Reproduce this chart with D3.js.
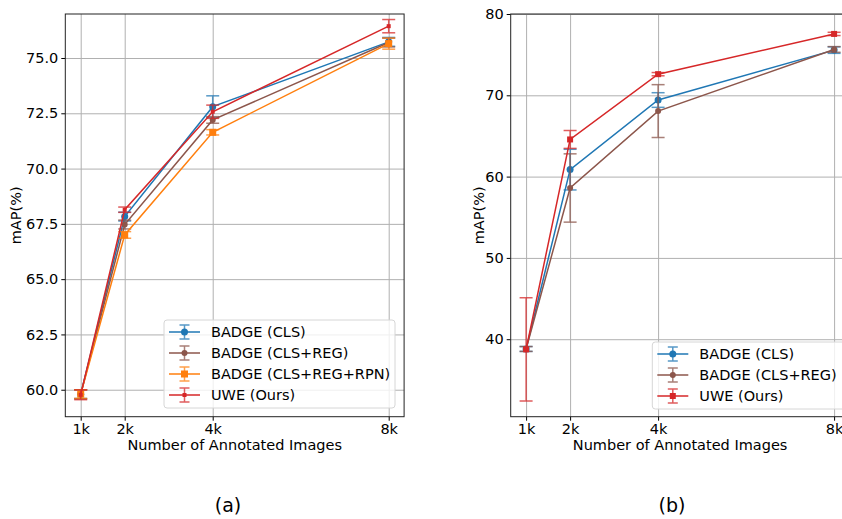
<!DOCTYPE html>
<html><head><meta charset="utf-8">
<script src="https://cdn.jsdelivr.net/npm/d3@7"></script>
<style>body{margin:0;background:#fff}svg{display:block}text{font-family:"DejaVu Sans",sans-serif}</style>
</head><body>
<script>
// ---- data ----
const xTicks = [1, 2, 4, 8];
const xTickLabels = ["1k", "2k", "4k", "8k"];

// chart (a)
const aBadgeCls = [59.8, 67.83, 72.8, 75.73];
const aBadgeClsErr = [0.2, 0.2, 0.49, 0.2];
const aBadgeClsReg = [59.8, 67.47, 72.2, 75.7];
const aBadgeClsRegErr = [0.2, 0.2, 0.15, 0.2];
const aBadgeClsRegRpn = [59.8, 67.0, 71.64, 75.65];
const aBadgeClsRegRpnErr = [0.2, 0.15, 0.12, 0.25];
const aUwe = [59.77, 68.14, 72.57, 76.44];
const aUweErr = [0.22, 0.12, 0.3, 0.3];
const aYTicks = [60.0, 62.5, 65.0, 67.5, 70.0, 72.5, 75.0];

// chart (b)
const bBadgeCls = [38.8, 60.86, 69.42, 75.56];
const bBadgeClsErr = [0.3, 2.5, 0.9, 0.4];
const bBadgeClsReg = [38.8, 58.6, 68.06, 75.64];
const bBadgeClsRegErr = [0.3, 4.2, 3.25, 0.35];
const bUwe = [38.75, 64.57, 72.6, 77.55];
const bUweErr = [6.35, 1.1, 0.2, 0.2];
const bYTicks = [40, 50, 60, 70, 80];

const seriesNames = ["BADGE (CLS)", "BADGE (CLS+REG)", "BADGE (CLS+REG+RPN)", "UWE (Ours)"];
const colors = {"BADGE (CLS)":"#1f77b4","BADGE (CLS+REG)":"#8c564b","BADGE (CLS+REG+RPN)":"#ff7f0e","UWE (Ours)":"#d62728"};
const markers = {"BADGE (CLS)":"circle","BADGE (CLS+REG)":"circle","BADGE (CLS+REG+RPN)":"square","UWE (Ours)":"square"};

const FS = 14.5;
const svg = d3.select("body").append("svg").attr("width", 842).attr("height", 519);

function drawMarker(g, shape, cx, cy, color, size) {
  if (shape === "circle") {
    g.append("circle").attr("cx", cx).attr("cy", cy).attr("r", size / 2).attr("fill", color);
  } else {
    g.append("rect").attr("x", cx - size / 2).attr("y", cy - size / 2).attr("width", size).attr("height", size).attr("fill", color);
  }
}

function chart(opt) {
  const x = d3.scaleLinear().domain([0.65, 8.35]).range([opt.left, opt.right]);
  const y = d3.scaleLinear().domain(opt.yDomain).range([opt.bottom, opt.top]);
  const g = svg.append("g");
  // grid
  g.append("g").attr("transform", `translate(0,${opt.bottom})`)
    .call(d3.axisBottom(x).tickValues(xTicks).tickSize(-(opt.bottom - opt.top)).tickFormat(""))
    .call(s => { s.select(".domain").remove(); s.selectAll("line").attr("stroke", "#b0b0b0").attr("stroke-width", 1); });
  g.append("g").attr("transform", `translate(${opt.left},0)`)
    .call(d3.axisLeft(y).tickValues(opt.yTicks).tickSize(-(opt.right - opt.left)).tickFormat(""))
    .call(s => { s.select(".domain").remove(); s.selectAll("line").attr("stroke", "#b0b0b0").attr("stroke-width", 1); });
  // axes ticks/labels
  g.append("g").attr("transform", `translate(0,${opt.bottom})`)
    .call(d3.axisBottom(x).tickValues(xTicks).tickSize(4).tickPadding(3).tickFormat((d, i) => xTickLabels[i]))
    .call(s => { s.select(".domain").remove(); s.selectAll("text").attr("font-size", FS).attr("fill", "#000").attr("font-family", "DejaVu Sans"); s.selectAll("line").attr("stroke", "#000"); });
  g.append("g").attr("transform", `translate(${opt.left},0)`)
    .call(d3.axisLeft(y).tickValues(opt.yTicks).tickSize(4).tickPadding(3).tickFormat(opt.fmt))
    .call(s => { s.select(".domain").remove(); s.selectAll("text").attr("font-size", FS).attr("fill", "#000").attr("font-family", "DejaVu Sans"); s.selectAll("line").attr("stroke", "#000"); });

  // series
  const plot = g.append("g");
  opt.series.forEach(se => {
    const c = colors[se.name];
    const pts = xTicks.map((xv, i) => ({x: xv, y: se.values[i], e: se.err[i]}));
    const eb = plot.append("g").attr("stroke", c).attr("stroke-width", 1.5).attr("opacity", 0.75);
    pts.forEach(p => {
      const px = x(p.x), y1 = y(p.y + p.e), y2 = y(p.y - p.e);
      eb.append("line").attr("x1", px).attr("x2", px).attr("y1", y1).attr("y2", y2);
      eb.append("line").attr("x1", px - 6.5).attr("x2", px + 6.5).attr("y1", y1).attr("y2", y1);
      eb.append("line").attr("x1", px - 6.5).attr("x2", px + 6.5).attr("y1", y2).attr("y2", y2);
    });
    plot.append("path").datum(pts)
      .attr("d", d3.line().x(d => x(d.x)).y(d => y(d.y)))
      .attr("fill", "none").attr("stroke", c).attr("stroke-width", 1.5);
    pts.forEach(p => drawMarker(plot, markers[se.name], x(p.x), y(p.y), c, se.msize));
  });

  // spines
  g.append("rect").attr("x", opt.left).attr("y", opt.top).attr("width", opt.right - opt.left).attr("height", opt.bottom - opt.top)
    .attr("fill", "none").attr("stroke", "#222").attr("stroke-width", 1);

  // axis labels
  g.append("text").attr("x", (opt.left + opt.xLabelRight) / 2).attr("y", opt.bottom + 33).attr("text-anchor", "middle")
    .attr("font-size", FS).text("Number of Annotated Images");
  g.append("text").attr("transform", `translate(${opt.yLabelX},${(opt.top + opt.bottom) / 2}) rotate(-90)`)
    .attr("text-anchor", "middle").attr("font-size", FS).text("mAP(%)");

  // legend
  const L = opt.legend;
  const lg = g.append("g");
  lg.append("rect").attr("x", L.x).attr("y", L.y).attr("width", L.w).attr("height", L.h).attr("rx", 3)
    .attr("fill", "rgba(255,255,255,0.8)").attr("stroke", "#d6d6d6").attr("stroke-width", 1);
  opt.series.forEach((se, i) => {
    const c = colors[se.name];
    const cy = L.y + 12 + i * 21;
    const hx1 = L.x + 5, hx2 = L.x + 36, hm = (hx1 + hx2) / 2;
    lg.append("line").attr("x1", hx1).attr("x2", hx2).attr("y1", cy).attr("y2", cy).attr("stroke", c).attr("stroke-width", 1.5);
    const e = lg.append("g").attr("stroke", c).attr("stroke-width", 1.5).attr("opacity", 0.75);
    e.append("line").attr("x1", hm).attr("x2", hm).attr("y1", cy - 7).attr("y2", cy + 7);
    e.append("line").attr("x1", hm - 5).attr("x2", hm + 5).attr("y1", cy - 7).attr("y2", cy - 7);
    e.append("line").attr("x1", hm - 5).attr("x2", hm + 5).attr("y1", cy + 7).attr("y2", cy + 7);
    drawMarker(lg, markers[se.name], hm, cy, c, se.msize);
    lg.append("text").attr("x", L.x + 47).attr("y", cy + 5).attr("font-size", FS).text(se.name);
  });

  // caption
  svg.append("text").attr("x", opt.capX).attr("y", 512).attr("text-anchor", "middle")
    .attr("font-family", "DejaVu Serif").attr("font-size", 19).text(opt.caption);
}

chart({
  left: 65.3, right: 404.1, top: 14, bottom: 416.7,
  yDomain: [58.78, 76.99], yTicks: aYTicks, fmt: d3.format(".1f"),
  xLabelRight: 404.1, yLabelX: 21,
  series: [
    {name: seriesNames[0], values: aBadgeCls, err: aBadgeClsErr, msize: 7},
    {name: seriesNames[1], values: aBadgeClsReg, err: aBadgeClsRegErr, msize: 6},
    {name: seriesNames[2], values: aBadgeClsRegRpn, err: aBadgeClsRegRpnErr, msize: 7},
    {name: seriesNames[3], values: aUwe, err: aUweErr, msize: 4}
  ],
  legend: {x: 164, y: 320, w: 231, h: 88},
  caption: "(a)", capX: 228
});

chart({
  left: 510.7, right: 849.5, top: 14, bottom: 416.7,
  yDomain: [30.47, 80], yTicks: bYTicks, fmt: d3.format("d"),
  xLabelRight: 849.5, yLabelX: 484,
  series: [
    {name: seriesNames[0], values: bBadgeCls, err: bBadgeClsErr, msize: 7},
    {name: seriesNames[1], values: bBadgeClsReg, err: bBadgeClsRegErr, msize: 6},
    {name: seriesNames[3], values: bUwe, err: bUweErr, msize: 6}
  ],
  legend: {x: 652.3, y: 342, w: 200, h: 67},
  caption: "(b)", capX: 672
});
</script>
</body></html>
